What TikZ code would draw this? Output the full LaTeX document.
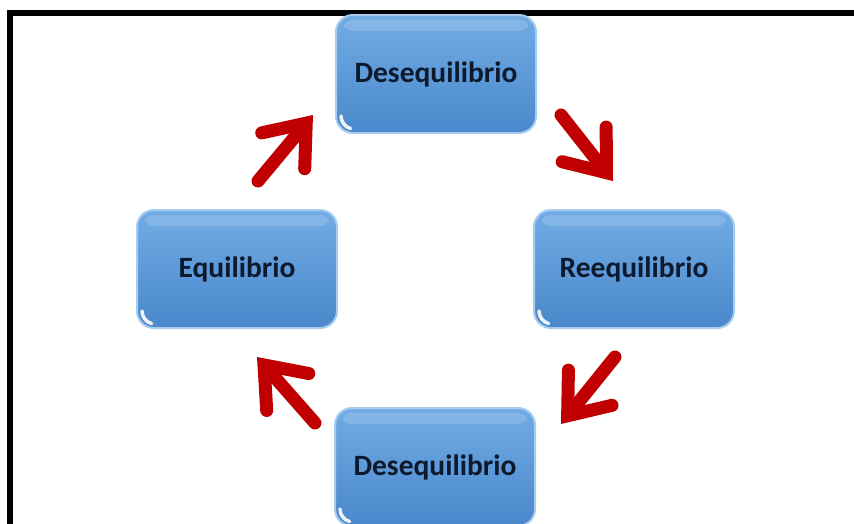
\documentclass[tikz,border=0pt]{standalone}
\usepackage{fontspec}
\setmainfont{Carlito}
\usetikzlibrary{arrows.meta,calc}
\definecolor{boxtop}{HTML}{72ACE4}
\definecolor{boxbot}{HTML}{4A88CC}
\definecolor{boxedge}{HTML}{A6CCF0}
\definecolor{txt}{HTML}{0D1A2E}
\definecolor{arrred}{HTML}{C00000}
\begin{document}
\begin{tikzpicture}[x=1pt,y=-1pt,
  box/.style={rounded corners=17pt, minimum width=200pt, minimum height=118pt,
    top color=boxtop, bottom color=boxbot, draw=boxedge, line width=2pt,
    font=\fontsize{29.5}{33}\selectfont\bfseries, text=txt,
    path picture={
      \fill[white,opacity=0.15,rounded corners=8pt]
        ($(path picture bounding box.north west)+(8,5)$) rectangle
        ($(path picture bounding box.north east)+(-8,16)$);
      \draw[white,line width=3.5pt,line cap=round,opacity=0.9]
        ($(path picture bounding box.south west)+(5,-17)$) arc[start angle=180,end angle=255,radius=13pt];
    }},
  cyc/.style={draw=arrred, line width=13pt, line cap=round,
    -{Straight Barb[length=36pt,width=56pt,line cap=round,line join=miter]}}]
\useasboundingbox (0,0) rectangle (854,523);
\fill[white] (0,0) rectangle (854,523);
\draw[line width=6pt] (10,540) -- (10,13) -- (870,13);
\node[box] (D1) at (436,74) {Desequilibrio};
\node[box] (L) at (237,269) {Equilibrio};
\node[box] (R) at (634,269) {Reequilibrio};
\node[box] (D2) at (435,467) {Desequilibrio};
\coordinate (a1s) at (258,181);
\coordinate (a1e) at (313,115);
\coordinate (a2s) at (561,115);
\coordinate (a2e) at (613,181);
\coordinate (a3s) at (615,357);
\coordinate (a3e) at (561,424);
\coordinate (a4s) at (315,423);
\coordinate (a4e) at (257,357);
\draw[cyc] (a1s) -- (a1e);
\draw[cyc] (a2s) -- (a2e);
\draw[cyc] (a3s) -- (a3e);
\draw[cyc] (a4s) -- (a4e);
\end{tikzpicture}
\end{document}
